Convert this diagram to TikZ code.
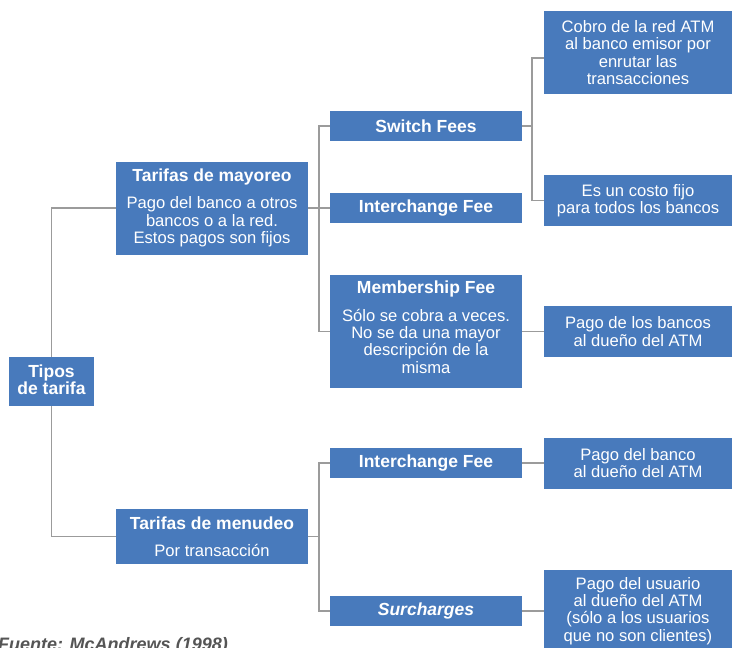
\documentclass[tikz,border=0pt]{standalone}
\usepackage{fontspec}
\setmainfont{Liberation Sans}
\definecolor{boxblue}{RGB}{72,122,188}
\definecolor{linegray}{RGB}{155,155,155}
\definecolor{capgray}{RGB}{85,85,85}
\newcommand{\hd}[1]{{\fontsize{17.5}{17.4}\selectfont\bfseries #1}}
\begin{document}
\begin{tikzpicture}[x=1pt,y=-1pt,
  box/.style={fill=boxblue,text=white,inner sep=0pt,align=center,font=\fontsize{16.6}{17.4}\selectfont},
  hbox/.style={box,font=\fontsize{17.5}{17.4}\selectfont\bfseries},
  conn/.style={draw=linegray,line width=1.5pt}]
\useasboundingbox (0,0) rectangle (732,648);

% left column
\node[hbox,minimum width=85pt,minimum height=49pt,text depth=4pt] (tipos) at (51.5,381.5) {Tipos\\de tarifa};
\node[box,minimum width=192pt,minimum height=93pt] (mayoreo) at (212,208) {\hd{Tarifas de mayoreo}\\[10pt]Pago del banco a otros\\bancos o a la red.\\Estos pagos son fijos};
\node[box,minimum width=192pt,minimum height=55pt] (menudeo) at (212,536.5) {\hd{Tarifas de menudeo}\\[10pt]Por transacción};

% middle column
\node[hbox,minimum width=192pt,minimum height=30pt] (switch) at (426,126) {Switch Fees};
\node[hbox,minimum width=192pt,minimum height=30pt] (inter1) at (426,208) {Interchange Fee};
\node[box,minimum width=192pt,minimum height=113pt,text depth=9pt] (member) at (426,331.5) {\hd{Membership Fee}\\[10.5pt]Sólo se cobra a veces.\\No se da una mayor\\descripción de la\\misma};
\node[hbox,minimum width=192pt,minimum height=30pt] (inter2) at (426,463) {Interchange Fee};
\node[hbox,minimum width=192pt,minimum height=30pt,font=\fontsize{17.5}{17.4}\selectfont\bfseries\itshape] (surch) at (426,611) {Surcharges};

% right column
\node[box,minimum width=188pt,minimum height=83pt] (cobro) at (638,52.5) {Cobro de la red ATM\\al banco emisor por\\enrutar las\\transacciones};
\node[box,minimum width=188pt,minimum height=51pt] (costo) at (638,200.5) {Es un costo fijo\\para todos los bancos};
\node[box,minimum width=188pt,minimum height=51pt] (pbancos) at (638,331.5) {Pago de los bancos\\al dueño del ATM};
\node[box,minimum width=188pt,minimum height=51pt] (pbanco) at (638,463) {Pago del banco\\al dueño del ATM};
\node[box,minimum width=188pt,minimum height=82pt] (pusuario) at (638,611) {Pago del usuario\\al dueño del ATM\\(sólo a los usuarios\\que no son clientes)};

% source
\node[font=\fontsize{18}{18}\selectfont\bfseries\itshape,text=capgray,anchor=base east,inner sep=0pt] (src) at (228,650) {Fuente: McAndrews (1998)};

% connectors
\coordinate (b1) at (319,208);
\coordinate (b2) at (532,126);
\coordinate (b3) at (319,536.5);
\draw[conn] (tipos.north) |- (mayoreo.west);
\draw[conn] (tipos.south) |- (menudeo.west);
\draw[conn] (mayoreo.east) -- (inter1.west);
\draw[conn] (switch.west) -| (b1) |- (member.west);
\draw[conn] (switch.east) -- (b2);
\draw[conn] ([yshift=-5.5pt]cobro.west) -| (b2) |- (costo.west);
\draw[conn] (member.east) -- (pbancos.west);
\draw[conn] (menudeo.east) -- (b3);
\draw[conn] (inter2.west) -| (b3) |- (surch.west);
\draw[conn] (inter2.east) -- (pbanco.west);
\draw[conn] (surch.east) -- (pusuario.west);
\end{tikzpicture}
\end{document}
